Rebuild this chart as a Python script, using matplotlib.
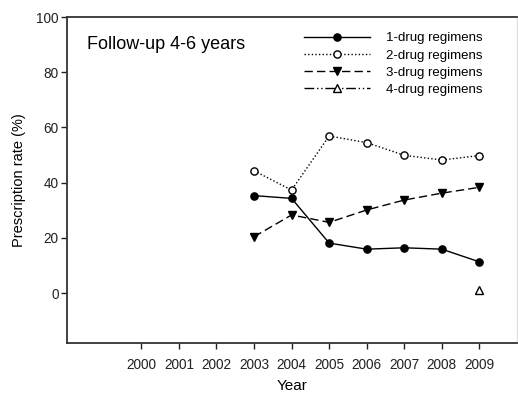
import matplotlib
matplotlib.use("Agg")
import matplotlib.pyplot as plt

plt.rcParams['font.family'] = ['Liberation Sans', 'DejaVu Sans']

years = [2003, 2004, 2005, 2006, 2007, 2008, 2009]
one_drug = [35.3, 34.3, 18.1, 15.9, 16.4, 15.9, 11.3]
two_drug = [44.3, 37.3, 56.9, 54.5, 49.9, 48.2, 49.8]
three_drug = [20.4, 28.3, 25.6, 30.1, 33.7, 36.2, 38.3]
four_years = [2009]
four_drug = [1.1]

xticks = list(range(2000, 2010))
yticks = [0, 20, 40, 60, 80, 100]

fig = plt.figure(figsize=(5.18, 3.96), dpi=100)
ax = fig.add_axes([0.1293, 0.1338, 0.8687, 0.8232])

ax.plot(years, one_drug, color='black', lw=1.0, ls='-', marker='o', ms=5.2,
        mfc='black', mec='black', label='1-drug regimens')
ax.plot(years, two_drug, color='black', lw=1.0, ls=(0, (1, 1.6)), marker='o', ms=5.2,
        mfc='white', mec='black', mew=1.0, label='2-drug regimens')
ax.plot(years, three_drug, color='black', lw=1.0, ls=(0, (6, 3)), marker='v', ms=6.2,
        mfc='black', mec='black', label='3-drug regimens')
ax.plot(four_years, four_drug, color='black', lw=1.0, ls=(0, (7, 2, 1, 2, 1, 2)), marker='^', ms=5.5,
        mfc='white', mec='black', mew=1.0, label='4-drug regimens')

ax.set_xlim(1998.02, 2010.0)
ax.set_ylim(-18.1, 100)
ax.set_xticks(xticks)
ax.set_yticks(yticks)
ax.tick_params(direction='out', length=4, width=1, labelsize=9.8, colors='#222222')
ax.tick_params(axis='x', pad=7)
ax.tick_params(axis='y', pad=2)

for s in ['left', 'bottom', 'top']:
    ax.spines[s].set_color('#333333')
    ax.spines[s].set_linewidth(1.3)
ax.spines['right'].set_color('#dddddd')
ax.spines['right'].set_linewidth(0.8)

ax.set_xlabel('Year', fontsize=11, labelpad=5)
ax.set_ylabel('Prescription rate (%)', fontsize=10.5, labelpad=7)

ax.text(0.045, 0.915, 'Follow-up 4-6 years', transform=ax.transAxes,
        fontsize=13, ha='left', va='center')

leg = ax.legend(loc='upper right', bbox_to_anchor=(0.935, 0.97), frameon=False,
                fontsize=9.5, numpoints=1, handlelength=5.0, handletextpad=1.2,
                labelspacing=0.38, borderaxespad=0)

fig.savefig('out.png', dpi=100)
